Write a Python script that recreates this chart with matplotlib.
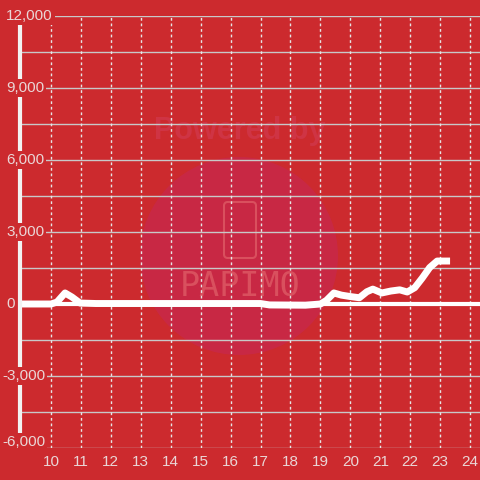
import numpy as np
import matplotlib.pyplot as plt
from matplotlib.patches import Circle, FancyBboxPatch

# data (hour of day, value)
times = [9.0, 10.0, 10.2, 10.47, 10.7, 10.97, 11.5, 17.0, 17.3, 18.5, 19.0,
         19.2, 19.45, 19.7, 20.0, 20.3, 20.55, 20.75, 21.05, 21.35, 21.65,
         21.9, 22.15, 22.4, 22.65, 22.9, 23.33]
values = [0, 0, 80, 460, 290, 40, 20, 20, -40, -50, 0,
          150, 460, 370, 310, 260, 510, 620, 460, 540, 590,
          500, 680, 1080, 1520, 1790, 1790]
x_ticks = list(range(10, 25))
y_ticks = [-6000, -3000, 0, 3000, 6000, 9000, 12000]
y_grid = np.arange(-6000, 12001, 1500)

bg = '#cc2a2e'
plt.rcParams['font.family'] = ['Liberation Sans', 'DejaVu Sans']

fig = plt.figure(figsize=(4.8, 4.8), dpi=100, facecolor=bg)
ax = fig.add_axes([20/480, 1 - 448/480, 460/480, 432/480])
ax.set_facecolor('none')

# faint watermark behind the plot
fig.add_artist(Circle((239/480, 1 - 256/480), 99/480, transform=fig.transFigure,
                      color='#c8284a', alpha=0.8, zorder=-2, lw=0))
fig.add_artist(FancyBboxPatch((224/480, 1 - 258/480), 32/480, 56/480,
                              boxstyle='round,pad=0,rounding_size=0.008',
                              transform=fig.transFigure, fill=False,
                              ec='#d9505e', lw=1.5, zorder=-1))
fig.text(240/480, 1 - 131/480, 'Powered by', color='#cf3444', fontsize=22,
         fontweight='bold', ha='center', va='center', zorder=-1)
fig.text(240/480, 1 - 286/480, 'PAPIMO', color='#d9505e', fontsize=24,
         ha='center', va='center', zorder=-1, family='DejaVu Sans Mono')

ax.set_xlim(8.965, 24.33)
ax.set_ylim(-6000, 12000)

for v in y_grid:
    ax.axhline(v, color='#c8c8c8', lw=1, zorder=1)
for t in x_ticks:
    ax.axvline(t, color='#e6e6e6', lw=1, ls=(0, (2, 2)), zorder=1)

ax.axhline(0, color='white', lw=3, zorder=2)
ax.plot(times, values, color='white', lw=5, solid_capstyle='butt',
        solid_joinstyle='round', zorder=3)

for s in ['top', 'right', 'bottom']:
    ax.spines[s].set_visible(False)
ax.spines['left'].set_color('#f2f2f2')
ax.spines['left'].set_linewidth(3)
ax.spines['left'].set_bounds(-5450, 11650)
ax.spines['left'].set_zorder(4)

ax.set_yticks([])
ax.set_xticks(x_ticks)
ax.tick_params(axis='x', length=0, pad=5, labelsize=11, labelcolor='#ead6d6')

for v in y_ticks:
    x0 = (2 if v < 0 else 6) - 20
    yv = v + 250 if v == -6000 else v
    ax.text(x0/460, yv, '{:,}'.format(v), transform=ax.get_yaxis_transform(),
            ha='left', va='center', fontsize=11, color='#ead6d6', zorder=5,
            clip_on=False, bbox=dict(boxstyle='square,pad=0.15', fc=bg, ec='none'))

fig.savefig('out.png', dpi=100, facecolor=bg)
